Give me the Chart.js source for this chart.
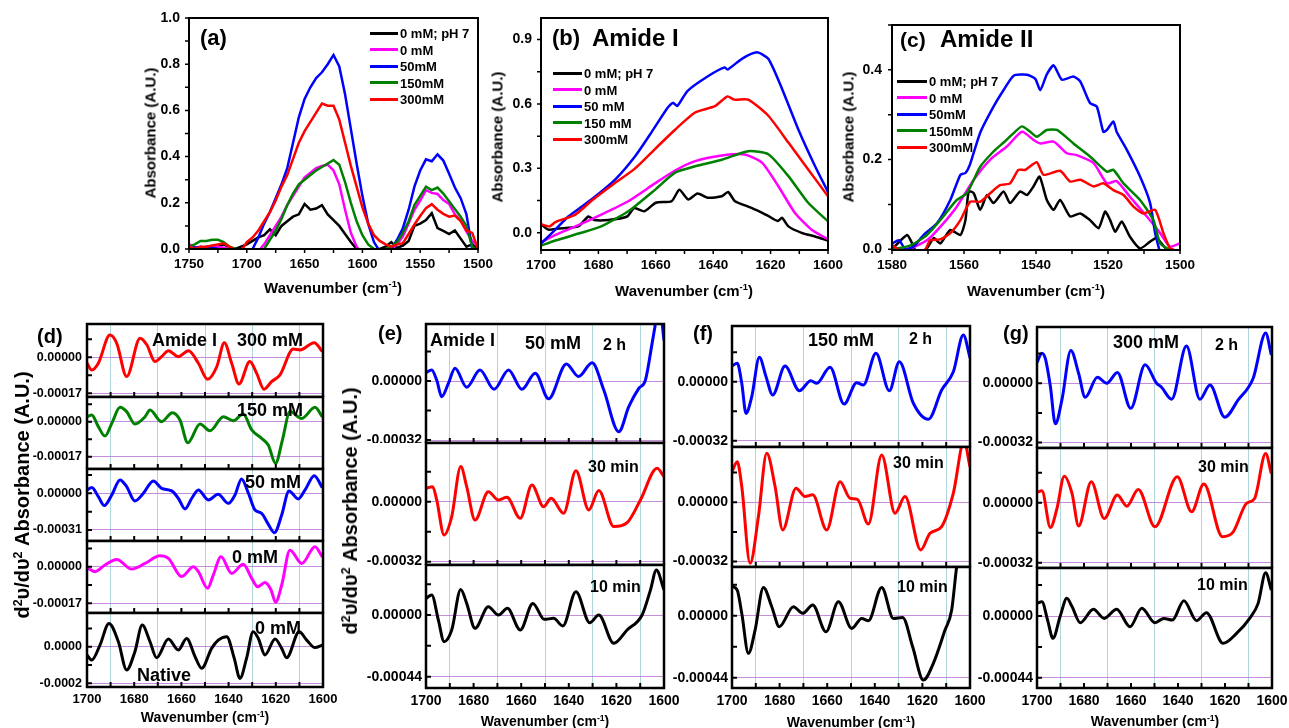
<!DOCTYPE html>
<html>
<head>
<meta charset="utf-8">
<script src="https://cdn.jsdelivr.net/npm/chart.js@4.4.1/dist/chart.umd.min.js"></script>
<style>
  body { margin: 0; background: #fff; }
  #fig { position: relative; width: 1289px; height: 728px; overflow: hidden;
         font-family: "Liberation Sans", Arial, sans-serif; font-weight: bold; color: #000; }
  #fig canvas { position: absolute; }
  .t { position: absolute; white-space: nowrap; line-height: 1; }
  .key { position: absolute; height: 3px; }
  sup { font-size: 0.62em; vertical-align: 0.55em; line-height: 0; }
</style>
</head>
<body>
<div id="fig"></div>
<script>
/**
 * FTIR spectra (a–c) and second-derivative Amide I spectra (d–g)
 */

// ---- (a) 1750–1500 cm-1 ----
const aWn = [1750,1745,1740,1735,1730,1725,1720,1715,1710,1705,1700,1695,1690,1685,1680,1675,1670,1665,1660,1655,1650,1645,1640,1635,1630,1625,1620,1615,1610,1605,1600,1595,1590,1585,1580,1575,1570,1565,1560,1555,1550,1545,1540,1535,1530,1525,1520,1515,1510,1505,1500];
const aPH7   = [0.02,0.005,0.0,0.01,0.005,0.01,0.02,0.008,0.0,0.01,0.02, 0.035,0.05,0.06,0.085,0.06,0.10,0.12,0.14,0.15,0.195,0.17,0.175,0.19,0.15,0.125,0.10,0.065,0.03,0.0,-0.01, -0.02,-0.01,0.0,0.01,0.03,0.005,0.015,0.035,0.10,0.11,0.125,0.155,0.09,0.078,0.065,0.08,0.045,0.01,0.02,0.0];
const a0mM   = [0.02,0.005,0.0,0.005,0.01,0.01,0.005,0.0,-0.01,-0.02,-0.03, -0.02,-0.01,0.02,0.06,0.10,0.14,0.19,0.23,0.27,0.31,0.33,0.35,0.36,0.365,0.34,0.28,0.17,0.07,0.01,-0.02, -0.03,-0.02,-0.01,0.0,0.0,0.02,0.055,0.11,0.17,0.21,0.255,0.243,0.238,0.212,0.195,0.15,0.125,0.075,0.035,0.01];
const a50mM  = [0.01,0.005,0.01,0.0,0.005,0.0,-0.005,-0.01,-0.015,-0.02,-0.02, 0.0,0.05,0.11,0.16,0.22,0.28,0.35,0.46,0.57,0.65,0.70,0.74,0.765,0.80,0.84,0.79,0.67,0.52,0.37,0.23, 0.11,0.03,-0.01,-0.01,0.0,0.04,0.09,0.17,0.27,0.34,0.388,0.38,0.41,0.383,0.326,0.266,0.22,0.15,0.0,-0.01];
const a150mM = [0.01,0.02,0.035,0.035,0.04,0.04,0.03,0.01,0.0,-0.01,-0.02, -0.02,-0.01,0.0,0.04,0.08,0.13,0.19,0.24,0.28,0.30,0.32,0.34,0.355,0.37,0.385,0.365,0.29,0.20,0.12,0.06, 0.02,0.0,-0.01,0.0,0.01,0.03,0.07,0.12,0.19,0.23,0.27,0.255,0.266,0.24,0.207,0.173,0.14,0.1,0.01,-0.01];
const a300mM = [0.01,0.0,0.01,0.01,0.015,0.02,0.025,0.01,-0.005,-0.01,0.03, 0.05,0.08,0.12,0.16,0.21,0.27,0.32,0.39,0.46,0.51,0.55,0.59,0.63,0.62,0.62,0.56,0.46,0.36,0.27,0.18, 0.11,0.06,0.035,0.02,0.01,0.02,0.025,0.065,0.106,0.143,0.177,0.194,0.17,0.152,0.14,0.145,0.121,0.08,0.07,0.0];

// ---- (b) Amide I ----
const bPH7X = [1700,1697.5,1694,1687,1683.5,1681.5,1676.5,1670,1667.5,1664,1660,1654.5,1651.8,1648.7,1645.5,1641.7,1637,1634.8,1632.4,1628,1624,1621,1617.5,1616,1613.8,1609.2,1604.5,1600];
const bPH7Y = [0.04,0.015,0.02,0.03,0.076,0.06,0.06,0.076,0.115,0.10,0.14,0.147,0.20,0.155,0.183,0.163,0.17,0.19,0.147,0.123,0.10,0.08,0.055,0.07,0.03,0.0,-0.017,-0.036];
const b0X   = [1700,1695,1688,1679,1669.6,1660.3,1653.3,1646.3,1637,1629,1623,1617.3,1611.5,1605.7,1600];
const b0Y   = [-0.045,-0.01,0.03,0.085,0.147,0.23,0.29,0.334,0.36,0.365,0.327,0.217,0.092,0.014,-0.03];
const b50X  = [1700,1695,1690.5,1686,1681,1674,1667,1661.4,1656,1654,1652.5,1649,1641.7,1636,1635,1630,1624.8,1620.8,1616,1610.3,1604.5,1600];
const b50Y  = [-0.05,0.015,0.076,0.12,0.17,0.25,0.36,0.47,0.58,0.605,0.59,0.66,0.73,0.77,0.76,0.81,0.84,0.81,0.67,0.48,0.31,0.19];
const b150X = [1700,1695,1686,1679,1669.6,1660.3,1653.3,1646.3,1637,1627.8,1620.8,1613.8,1606.9,1600];
const b150Y = [-0.06,-0.036,0.0,0.03,0.10,0.20,0.28,0.31,0.34,0.38,0.366,0.264,0.14,0.053];
const b300X = [1700,1697,1695,1688,1682.3,1675.4,1667.2,1660.3,1653.3,1646.3,1639.4,1635,1632.7,1627.8,1620.8,1613.8,1606.9,1600];
const b300Y = [0.04,0.03,0.05,0.085,0.15,0.22,0.30,0.39,0.48,0.56,0.59,0.635,0.62,0.62,0.545,0.42,0.295,0.17];

// ---- (c) Amide II ----
const cPH7X = [1580,1575.8,1574.4,1573,1570.3,1568.4,1566.6,1563.8,1561,1559.6,1558.7,1557.3,1555.5,1553.6,1551.8,1549,1547.2,1544.4,1542.5,1540.7,1539,1537,1535.1,1533.3,1530.5,1527.7,1525,1522.6,1520.8,1519.4,1518,1516.2,1513.9,1511.1,1508.3,1506.5,1503.7,1500];
const cPH7Y = [0.0,0.032,0.013,-0.009,0.002,0.025,0.013,0.043,0.032,0.065,0.129,0.125,0.088,0.121,0.103,0.129,0.103,0.129,0.121,0.14,0.162,0.11,0.088,0.11,0.073,0.08,0.065,0.047,0.084,0.065,0.039,0.062,0.028,0.002,0.017,0.025,0.0,-0.005];
const c0X   = [1580,1575,1570.3,1566.6,1562,1557.3,1552.7,1548.1,1543.9,1540.7,1538.8,1535.1,1531.4,1528.7,1524,1520.3,1517.6,1513.9,1509.2,1505.5,1502.8,1500];
const c0Y   = [0.0,0.002,0.02,0.05,0.095,0.155,0.2,0.229,0.262,0.244,0.236,0.24,0.214,0.21,0.192,0.147,0.152,0.117,0.073,0.036,0.006,0.013];
const c50X  = [1580,1578,1576.3,1574,1571.2,1567.5,1563.8,1561,1559.6,1558.3,1555.5,1551.8,1549,1546.2,1542.5,1540.2,1538.8,1537,1535.1,1532.8,1529.6,1527.7,1525,1523.1,1521.3,1520.3,1518.5,1517.6,1514.8,1511.1,1508.3,1506.9,1505.5];
const c50Y  = [0.013,0.02,0.0,0.006,0.032,0.058,0.11,0.166,0.17,0.19,0.26,0.318,0.355,0.387,0.389,0.38,0.355,0.39,0.41,0.378,0.385,0.374,0.326,0.318,0.262,0.266,0.285,0.262,0.222,0.162,0.103,0.036,-0.009];
const c150X = [1580,1575,1570.3,1566.6,1562,1559.2,1555.5,1551.8,1549,1546.2,1543.9,1541.6,1539.8,1537,1534.2,1529.6,1525,1520.3,1518.5,1515.7,1511.1,1507.4,1505.5,1502.8];
const c150Y = [0.0,0.008,0.032,0.065,0.11,0.125,0.184,0.218,0.238,0.259,0.274,0.262,0.251,0.266,0.266,0.236,0.207,0.173,0.177,0.147,0.11,0.065,0.013,-0.002];
const c300X = [1580,1576.8,1573,1570.7,1569.4,1566.6,1563.8,1561,1558.3,1555.5,1552.7,1550,1547.2,1544.9,1543,1539.8,1537.9,1533.3,1530.5,1527.7,1524,1521.3,1518.5,1515.7,1512.9,1510.2,1506.9,1504.6,1502.8,1501.8];
const c300Y = [0.01,-0.009,-0.009,0.0,0.02,0.022,0.036,0.065,0.106,0.106,0.125,0.143,0.147,0.177,0.177,0.194,0.166,0.175,0.151,0.155,0.14,0.147,0.132,0.121,0.095,0.08,0.088,0.036,0.002,0.0];

// ---- (d) second derivative, stacked by NaCl concentration ----
const d300X = [1700,1698,1695.2,1690.3,1687.4,1683.2,1677.5,1674.6,1671.2,1668.4,1665.5,1661.3,1657,1652.8,1648.9,1645,1641.8,1638.7,1635.6,1631,1628.1,1625,1621.8,1618.2,1612.6,1609.7,1603.7,1600.3];
const d300Y = [-0.28e-4,-0.6e-4,-0.28e-4,1.05e-4,0.66e-4,-0.91e-4,0.9e-4,0.58e-4,-0.2e-4,0.03e-4,0.31e-4,0.03e-4,0.31e-4,-0.28e-4,-1.04e-4,-0.44e-4,0.69e-4,-0.28e-4,-1.26e-4,-0.2e-4,-0.76e-4,-1.51e-4,-1.15e-4,-0.83e-4,0.39e-4,0.35e-4,0.69e-4,0.27e-4];
const d150X = [1700,1698,1695.2,1692.4,1689.5,1686,1683.2,1679.7,1675.4,1673.3,1668.4,1663.8,1660.6,1657.3,1652.1,1647.9,1642.2,1638,1633.8,1630.2,1626,1623.2,1620.1,1617.2,1614,1609,1603.4,1600.3];
const d150Y = [0.24e-4,0.32e-4,-0.24e-4,-0.7e-4,-0.08e-4,0.7e-4,0.49e-4,-0.11e-4,0.24e-4,0.57e-4,0.0,0.44e-4,0.08e-4,-1.02e-4,-0.11e-4,-0.44e-4,0.24e-4,0.05e-4,0.37e-4,-0.4e-4,-0.81e-4,-1.13e-4,-2.02e-4,-0.89e-4,0.49e-4,0.16e-4,0.7e-4,0.24e-4];
const d50X  = [1700,1698,1695.2,1692.7,1689.5,1686,1683.2,1679.7,1676.1,1671.9,1668.4,1664.1,1661.3,1658.5,1655.6,1652.8,1648.6,1644.4,1640.1,1637.3,1634.5,1631.6,1628.8,1626,1623.4,1620.6,1617.5,1614.4,1610.5,1607.6,1603.7,1600.3];
const d50Y  = [0.28e-4,0.48e-4,-0.28e-4,-1.04e-4,-0.14e-4,1.13e-4,0.56e-4,-0.65e-4,0.0,1.04e-4,0.42e-4,0.2e-4,-0.42e-4,-1.32e-4,-0.42e-4,0.28e-4,-0.56e-4,-0.08e-4,-0.85e-4,-0.14e-4,1.21e-4,0.0,-1.41e-4,-1.69e-4,-2.54e-4,-3.33e-4,-1.83e-4,0.2e-4,-0.48e-4,0.28e-4,1.49e-4,0.48e-4];
const d0X   = [1700,1696.6,1692.4,1687.4,1681.1,1675.4,1669.1,1665.5,1659.9,1654.9,1652.8,1648.9,1646.5,1643.2,1638.7,1633.8,1630.2,1627.7,1624.6,1622,1620.1,1617.5,1614,1609,1603.4,1600.3];
const d0Y   = [-0.05e-4,-0.23e-4,0.08e-4,0.34e-4,-0.11e-4,0.15e-4,0.51e-4,0.39e-4,-0.46e-4,0.0,-0.23e-4,-1.0e-4,-0.39e-4,0.46e-4,-0.31e-4,0.11e-4,-0.54e-4,-0.93e-4,-0.73e-4,-1.08e-4,-1.65e-4,-0.85e-4,0.77e-4,0.15e-4,0.93e-4,0.46e-4];
const dNatX = [1700,1698,1694.5,1690.7,1686.7,1683.2,1679.7,1676.6,1673.3,1670.5,1665.5,1661.3,1657.8,1654.2,1651.4,1647.2,1644.4,1640.8,1637.6,1635.2,1632.4,1629.6,1627.4,1624.6,1620.3,1617.5,1615.4,1610.1,1606.9,1603.4,1600.3];
const dNatY = [-0.45e-4,-0.73e-4,0.09e-4,1.27e-4,0.27e-4,-1.27e-4,-0.27e-4,1.18e-4,0.27e-4,-0.6e-4,0.42e-4,-0.18e-4,0.45e-4,-0.55e-4,-1.18e-4,-0.09e-4,0.36e-4,0.55e-4,-0.64e-4,-1.73e-4,-0.64e-4,0.82e-4,0.45e-4,-0.45e-4,0.42e-4,-0.09e-4,-0.6e-4,0.82e-4,0.36e-4,-0.05e-4,0.09e-4];

// ---- (e) 50 mM over time ----
const e2hX  = [1700,1697.6,1695.5,1693.4,1690.6,1687.8,1682.9,1677.3,1671.4,1665.3,1659.7,1654.1,1648.5,1641,1635.9,1630.2,1625.3,1619,1614.8,1610.6,1607.8,1605,1603.6,1602,1600];
const e2hY  = [0.45e-4,0.6e-4,0.05e-4,-0.85e-4,-0.13e-4,0.69e-4,-0.34e-4,0.6e-4,-0.45e-4,0.6e-4,-0.45e-4,0.42e-4,-0.96e-4,0.92e-4,0.24e-4,0.99e-4,-0.49e-4,-2.75e-4,-1.39e-4,-0.4e-4,0.05e-4,2.04e-4,3.1e-4,4.2e-4,2.2e-4];
const e30X  = [1700,1697.2,1695.5,1692.4,1689.2,1685.4,1682.9,1679.4,1673.8,1669.6,1666,1660.4,1655.5,1650.6,1647.4,1642.2,1637,1631.6,1627.4,1621.1,1615.5,1609.9,1602.9,1600];
const e30Y  = [0.71e-4,0.8e-4,0.09e-4,-1.78e-4,-0.8e-4,1.87e-4,0.8e-4,-0.98e-4,0.53e-4,0.09e-4,0.23e-4,-0.89e-4,0.89e-4,-0.27e-4,0.18e-4,-0.62e-4,1.65e-4,-0.44e-4,0.59e-4,-1.33e-4,-1.12e-4,0.09e-4,1.78e-4,1.33e-4];
const e10X  = [1700,1697.6,1694.8,1692.4,1689.2,1685.4,1682.9,1679.4,1673.8,1669.6,1665.8,1660.4,1655.1,1650.3,1646.4,1642.5,1637,1631.2,1627.4,1621.1,1615.5,1609.2,1605.7,1603.2,1600];
const e10Y  = [1.19e-4,1.43e-4,-0.36e-4,-1.9e-4,-1.07e-4,1.83e-4,0.83e-4,-0.95e-4,0.59e-4,0.0,0.48e-4,-1.07e-4,0.83e-4,-0.31e-4,-0.24e-4,-0.78e-4,1.66e-4,-0.55e-4,0.0,-2.02e-4,-1.07e-4,0.0,1.78e-4,3.21e-4,1.8e-4];

// ---- (f) 150 mM over time ----
const f2hX  = [1700,1697.8,1695.9,1694.1,1691.7,1688.5,1685.7,1682.9,1677.7,1671.7,1666.9,1664.4,1658.8,1652.9,1647.6,1644.8,1639.5,1633.9,1629.7,1623.8,1617.5,1611.9,1607,1602.8,1600];
const f2hY  = [0.85e-4,1.0e-4,-0.09e-4,-1.72e-4,-0.81e-4,1.32e-4,0.27e-4,-0.72e-4,0.85e-4,-0.49e-4,0.05e-4,-0.09e-4,0.78e-4,-1.21e-4,-0.05e-4,-0.18e-4,1.54e-4,-0.49e-4,1.08e-4,-1.17e-4,-2.04e-4,-0.45e-4,0.54e-4,2.53e-4,1.3e-4];
const f30X  = [1700,1697.8,1695.9,1692.4,1688.9,1685.4,1681.9,1678.7,1673.1,1669.3,1666.1,1660.2,1654.6,1650.4,1647.3,1642.7,1637.1,1631.5,1627.3,1620.7,1616.8,1611.9,1607,1602.5,1600];
const f30Y  = [1.65e-4,2.19e-4,0.85e-4,-3.29e-4,-0.77e-4,2.64e-4,0.85e-4,-1.49e-4,0.76e-4,0.31e-4,0.4e-4,-1.49e-4,1.11e-4,0.22e-4,0.16e-4,-1.17e-4,2.55e-4,-0.59e-4,0.31e-4,-2.57e-4,-1.67e-4,-1.31e-4,0.49e-4,3.3e-4,1.9e-4];
const f10X  = [1700,1697.8,1695.9,1693.1,1690.3,1686.8,1683.3,1680.1,1674.2,1670.3,1666.1,1660.5,1655.3,1649.7,1645.5,1642.7,1637.1,1632.2,1628.3,1624.1,1619.6,1615.4,1610.5,1607.7,1605.6,1603,1600];
const f10Y  = [2.1e-4,1.82e-4,0.17e-4,-2.67e-4,-1.02e-4,2.01e-4,0.64e-4,-0.78e-4,0.64e-4,0.17e-4,0.76e-4,-1.14e-4,0.99e-4,-0.9e-4,-0.19e-4,-0.35e-4,2.01e-4,-0.19e-4,-0.12e-4,-2.2e-4,-4.57e-4,-3.38e-4,-1.02e-4,0.4e-4,3.48e-4,6.0e-4,8.0e-4];

// ---- (g) 300 mM over time ----
const g2hX  = [1700,1697.9,1696.5,1694.3,1692.2,1689.4,1685.6,1682.3,1679.5,1674.3,1670.3,1665.8,1660.1,1654,1649.1,1647,1642.7,1636.4,1630.7,1626.4,1620.1,1614.4,1608,1602.7,1600.3];
const g2hY  = [1.12e-4,1.62e-4,1.35e-4,-0.18e-4,-2.19e-4,-0.9e-4,1.76e-4,0.54e-4,-0.76e-4,0.32e-4,0.0,0.58e-4,-1.35e-4,0.99e-4,0.0,-0.22e-4,-0.86e-4,2.01e-4,-0.86e-4,-0.09e-4,-1.83e-4,-0.9e-4,0.27e-4,2.7e-4,1.53e-4];
const g30X  = [1700,1697.9,1694.3,1691.5,1688.4,1685.1,1682.3,1676.9,1671.4,1665.8,1661.8,1656.9,1649.8,1640.3,1634.2,1629,1621.1,1616.5,1610.9,1607.4,1602.7,1600.3];
const g30Y  = [0.55e-4,0.64e-4,-1.32e-4,-0.3e-4,1.42e-4,0.5e-4,-1.24e-4,1.12e-4,-0.84e-4,0.41e-4,-0.18e-4,0.71e-4,-1.28e-4,1.39e-4,-0.48e-4,1.0e-4,-1.81e-4,-1.55e-4,-0.04e-4,0.23e-4,2.63e-4,1.56e-4];
const g10X  = [1700,1697.9,1695.5,1693.2,1690.1,1687.3,1685.1,1681.6,1676,1671.4,1666.1,1660.4,1655.4,1649.8,1646,1642.4,1637.5,1632.1,1627.9,1620.8,1615.1,1609.5,1605.9,1602.7,1600.3];
const g10Y  = [0.9e-4,1.02e-4,-0.29e-4,-1.59e-4,0.0,1.26e-4,0.67e-4,-0.48e-4,0.48e-4,-0.17e-4,0.48e-4,-0.76e-4,0.55e-4,-0.48e-4,-0.17e-4,-0.29e-4,1.09e-4,-0.33e-4,0.24e-4,-1.95e-4,-1.24e-4,-0.17e-4,0.9e-4,3.09e-4,1.85e-4];

// ---- tick values and labels ----
const aXTicks = [1500,1525,1550,1575,1600,1625,1650,1675,1700,1725,1750];
const aXLabels = ['1500','','1550','','1600','','1650','','1700','','1750'];
const aYTicks = [0,0.1,0.2,0.3,0.4,0.5,0.6,0.7,0.8,0.9,1.0];
const aYLabels = ['0.0','','0.2','','0.4','','0.6','','0.8','','1.0'];
const bYTicks = [0,0.15,0.3,0.45,0.6,0.75,0.9];
const bYLabels = ['0.0','','0.3','','0.6','','0.9'];
const cXTicks = [1500,1510,1520,1530,1540,1550,1560,1570,1580];
const cXLabels = ['1500','','1520','','1540','','1560','','1580'];
const cYTicks = [0,0.1,0.2,0.3,0.4,0.5];
const cYLabels = ['0.0','','0.2','','0.4',''];
const amideXTicks = [1600,1610,1620,1630,1640,1650,1660,1670,1680,1690,1700];
const amideXLabels = ['1600','','1620','','1640','','1660','','1680','','1700'];

const BLACK = '#000000', MAGENTA = '#ff00ff', BLUE = '#0000ff', GREEN = '#008000', RED = '#ff0000';
const GRID_X = 'rgba(110,180,190,0.55)';
const GRID_Y = 'rgba(190,120,215,0.85)';

Chart.defaults.font.family = '"Liberation Sans", Arial, sans-serif';
Chart.defaults.font.weight = 'bold';
Chart.defaults.color = '#000';

const fig = document.getElementById('fig');

// box frame plus tick marks, taken from each chart's own scales
const framePlugin = {
    id: 'frame',
    afterDatasetsDraw(chart, args, o) {
        const { ctx, chartArea: a, scales } = chart;
        const dir = o.inward ? 1 : -1;
        ctx.save();
        ctx.strokeStyle = '#000';
        ctx.lineWidth = o.tickWidth;
        ctx.beginPath();
        scales.x.ticks.forEach(t => {
            const px = scales.x.getPixelForValue(t.value);
            const len = t.label ? o.major : o.minor;
            ctx.moveTo(px, a.bottom);
            ctx.lineTo(px, a.bottom - dir * len);
        });
        scales.y.ticks.forEach(t => {
            const py = scales.y.getPixelForValue(t.value);
            const len = t.label ? o.major : o.minor;
            ctx.moveTo(a.left, py);
            ctx.lineTo(a.left + dir * len, py);
        });
        ctx.stroke();
        ctx.lineWidth = o.frameWidth;
        ctx.strokeRect(a.left, a.top, a.right - a.left, a.bottom - a.top);
        ctx.restore();
    }
};

/**
 * One plot box placed at page coordinates (left/top/right/bottom of the plot area)
 */
function panel(p) {
    const padT = p.padT ?? 6, padR = p.padR ?? 24;
    const W = p.right - p.left + p.padL + padR;
    const H = p.bottom - p.top + padT + p.padB;
    const cv = document.createElement('canvas');
    cv.width = W; cv.height = H;
    Object.assign(cv.style, {
        left: (p.left - p.padL) + 'px', top: (p.top - padT) + 'px',
        width: W + 'px', height: H + 'px'
    });
    fig.appendChild(cv);

    const setTicks = vals => scale => { scale.ticks = vals.map(v => ({ value: v })); };

    return new Chart(cv, {
        type: 'scatter',
        data: {
            datasets: p.series.map(s => ({
                data: s.x.map((x, i) => ({ x, y: s.y[i] })),
                showLine: true,
                borderColor: s.color,
                backgroundColor: s.color,
                borderWidth: p.lineWidth,
                pointRadius: 0,
                pointHoverRadius: 0,
                tension: p.tension || 0,
                cubicInterpolationMode: p.smooth ? 'monotone' : 'default'
            }))
        },
        options: {
            responsive: false,
            animation: false,
            events: [],
            layout: { padding: { top: padT, right: padR, left: 0, bottom: 0 }, autoPadding: false },
            plugins: {
                legend: { display: false },
                tooltip: { enabled: false },
                frame: p.frame
            },
            scales: {
                x: {
                    type: 'linear', reverse: true, min: p.xMin, max: p.xMax,
                    afterBuildTicks: setTicks(p.xTicks),
                    afterFit: s => { s.height = p.padB; s.paddingLeft = 0; s.paddingRight = 0; },
                    border: { display: false },
                    grid: {
                        display: !!p.grid, drawTicks: false, lineWidth: 1,
                        color: c => (p.xLabels[c.index] === '' ? GRID_X : 'rgba(0,0,0,0)')
                    },
                    ticks: {
                        display: p.xShow, autoSkip: false, maxRotation: 0, padding: p.xPad,
                        font: { size: p.xFont, weight: 'bold' }, color: '#000',
                        callback: (v, i) => p.xLabels[i]
                    }
                },
                y: {
                    type: 'linear', min: p.yMin, max: p.yMax,
                    afterBuildTicks: setTicks(p.yTicks),
                    afterFit: s => { s.width = p.padL; s.paddingTop = 0; s.paddingBottom = 0; },
                    border: { display: false },
                    grid: {
                        display: !!p.grid, drawTicks: false, lineWidth: 1,
                        color: c => (p.yLabels[c.index] !== '' ? GRID_Y : 'rgba(0,0,0,0)')
                    },
                    ticks: {
                        autoSkip: false, padding: p.yPad,
                        font: { size: p.yFont, weight: 'bold' }, color: '#000',
                        callback: (v, i) => p.yLabels[i]
                    }
                }
            }
        },
        plugins: [framePlugin]
    });
}

function txt(html, x, y, size, center) {
    const d = document.createElement('div');
    d.className = 't';
    d.innerHTML = html;
    d.style.fontSize = size + 'px';
    d.style.left = x + 'px';
    d.style.top = y + 'px';
    d.style.transform = center ? 'translate(-50%,-50%)' : 'translate(0,-50%)';
    fig.appendChild(d);
}

function vtxt(html, x, y, size) {
    const d = document.createElement('div');
    d.className = 't';
    d.innerHTML = html;
    d.style.fontSize = size + 'px';
    d.style.left = x + 'px';
    d.style.top = y + 'px';
    d.style.transform = 'translate(-50%,-50%) rotate(-90deg)';
    fig.appendChild(d);
}

function legendRows(x1, x2, y0, step, rows) {
    rows.forEach((r, i) => {
        const y = y0 + i * step;
        const k = document.createElement('div');
        k.className = 'key';
        Object.assign(k.style, { left: x1 + 'px', top: (y - 1.5) + 'px', width: (x2 - x1) + 'px', background: r[0] });
        fig.appendChild(k);
        txt(r[1], x2 + 2, y, 13);
    });
}

// ---------- top row ----------
const topFrame = { inward: false, major: 4, minor: 4, tickWidth: 1.5, frameWidth: 2 };
const topCommon = { padL: 60, padB: 32, padT: 8, padR: 26, lineWidth: 2.5, frame: topFrame,
                    xShow: true, xPad: 7, xFont: 13.5, yPad: 9, yFont: 14 };

panel({ ...topCommon, left: 189, right: 478, top: 18, bottom: 249,
    xMin: 1500, xMax: 1750, xTicks: aXTicks, xLabels: aXLabels,
    yMin: 0, yMax: 1.0, yTicks: aYTicks, yLabels: aYLabels,
    series: [
        { x: aWn, y: a300mM, color: RED },
        { x: aWn, y: a150mM, color: GREEN },
        { x: aWn, y: a50mM, color: BLUE },
        { x: aWn, y: a0mM, color: MAGENTA },
        { x: aWn, y: aPH7, color: BLACK }
    ] });

panel({ ...topCommon, left: 541, right: 828, top: 18, bottom: 250, tension: 0.2,
    xMin: 1600, xMax: 1700, xTicks: amideXTicks, xLabels: amideXLabels,
    yMin: -0.08, yMax: 1.0, yTicks: bYTicks, yLabels: bYLabels,
    series: [
        { x: b300X, y: b300Y, color: RED },
        { x: b150X, y: b150Y, color: GREEN },
        { x: b50X, y: b50Y, color: BLUE },
        { x: b0X, y: b0Y, color: MAGENTA },
        { x: bPH7X, y: bPH7Y, color: BLACK }
    ] });

panel({ ...topCommon, left: 892, right: 1180, top: 25, bottom: 250, yPad: 10, tension: 0.2,
    xMin: 1500, xMax: 1580, xTicks: cXTicks, xLabels: cXLabels,
    yMin: -0.0016, yMax: 0.5, yTicks: cYTicks, yLabels: cYLabels,
    series: [
        { x: c300X, y: c300Y, color: RED },
        { x: c150X, y: c150Y, color: GREEN },
        { x: c50X, y: c50Y, color: BLUE },
        { x: c0X, y: c0Y, color: MAGENTA },
        { x: cPH7X, y: cPH7Y, color: BLACK }
    ] });

// ---------- bottom row: stacked second-derivative boxes ----------
const derivFrame = { inward: true, major: 5, minor: 5, tickWidth: 2, frameWidth: 2.5 };

function derivBox(cfg) {
    const L = cfg.L;
    panel({
        left: cfg.left, right: cfg.right, top: cfg.top, bottom: cfg.bottom,
        padL: 72, padR: 22, padT: 4, padB: cfg.last ? 26 : 0,
        lineWidth: 3, smooth: true, grid: true, frame: derivFrame,
        xMin: 1600, xMax: 1700, xTicks: amideXTicks, xLabels: amideXLabels,
        xShow: !!cfg.last, xPad: 5, xFont: cfg.xFont,
        yMin: cfg.yMin, yMax: cfg.yMax,
        yTicks: [-L, -L / 2, 0, L / 2], yLabels: [cfg.low, '', cfg.zero, ''],
        yPad: cfg.yPad, yFont: cfg.yFont,
        series: [{ x: cfg.x, y: cfg.y, color: cfg.color }]
    });
}

// (d)
const dBox = { left: 87, right: 323, xFont: 13, yFont: 12.5, yPad: 5, zero: '0.00000' };
derivBox({ ...dBox, top: 324, bottom: 397, L: 0.00017, low: '-0.00017', yMin: -1.875e-4, yMax: 1.572e-4, x: d300X, y: d300Y, color: RED });
derivBox({ ...dBox, top: 397, bottom: 469, L: 0.00017, low: '-0.00017', yMin: -2.297e-4, yMax: 1.2e-4, x: d150X, y: d150Y, color: GREEN });
derivBox({ ...dBox, top: 469, bottom: 541, L: 0.00031, low: '-0.00031', yMin: -4.03e-4, yMax: 2.05e-4, x: d50X, y: d50Y, color: BLUE });
derivBox({ ...dBox, top: 541, bottom: 613, L: 0.00017, low: '-0.00017', yMin: -2.15e-4, yMax: 1.194e-4, x: d0X, y: d0Y, color: MAGENTA });
derivBox({ ...dBox, top: 613, bottom: 687, L: 0.0002, low: '-0.0002', zero: '0.0000', yMin: -2.2e-4, yMax: 1.84e-4, x: dNatX, y: dNatY, color: BLACK, last: true });

// (e)
const eBox = { left: 426, right: 664, xFont: 14, yFont: 14, yPad: 4, zero: '0.00000' };
derivBox({ ...eBox, top: 324, bottom: 443, L: 0.00032, low: '-0.00032', yMin: -3.36e-4, yMax: 3.09e-4, x: e2hX, y: e2hY, color: BLUE });
derivBox({ ...eBox, top: 443, bottom: 565, L: 0.00032, low: '-0.00032', yMin: -3.38e-4, yMax: 3.13e-4, x: e30X, y: e30Y, color: RED });
derivBox({ ...eBox, top: 565, bottom: 688, L: 0.00044, low: '-0.00044', yMin: -5.21e-4, yMax: 3.57e-4, x: e10X, y: e10Y, color: BLACK, last: true });

// (f)
const fBox = { left: 732, right: 970, xFont: 14, yFont: 14, yPad: 4, zero: '0.00000' };
derivBox({ ...fBox, top: 326, bottom: 447, L: 0.00032, low: '-0.00032', yMin: -3.54e-4, yMax: 3.02e-4, x: f2hX, y: f2hY, color: BLUE });
derivBox({ ...fBox, top: 447, bottom: 567, L: 0.00032, low: '-0.00032', yMin: -3.49e-4, yMax: 2.98e-4, x: f30X, y: f30Y, color: RED });
derivBox({ ...fBox, top: 567, bottom: 688, L: 0.00044, low: '-0.00044', yMin: -5.13e-4, yMax: 3.46e-4, x: f10X, y: f10Y, color: BLACK, last: true });

// (g)
const gBox = { left: 1037, right: 1272, xFont: 14, yFont: 14, yPad: 4, zero: '0.00000' };
derivBox({ ...gBox, top: 327, bottom: 448, L: 0.00032, low: '-0.00032', yMin: -3.49e-4, yMax: 3.03e-4, x: g2hX, y: g2hY, color: BLUE });
derivBox({ ...gBox, top: 448, bottom: 568, L: 0.00032, low: '-0.00032', yMin: -3.48e-4, yMax: 2.92e-4, x: g30X, y: g30Y, color: RED });
derivBox({ ...gBox, top: 568, bottom: 688, L: 0.00044, low: '-0.00044', yMin: -5.13e-4, yMax: 3.42e-4, x: g10X, y: g10Y, color: BLACK, last: true });

// ---------- text ----------
const wave = 'Wavenumber (cm<sup>-1</sup>)';
const absAU = 'Absorbance (A.U.)';
const d2 = 'd<sup>2</sup>&upsilon;/d&upsilon;<sup>2</sup> Absorbance (A.U.)';

// axis titles
txt(wave, 333, 287, 15, true);
txt(wave, 684, 290, 15, true);
txt(wave, 1036, 290, 15, true);
vtxt(absAU, 150, 133, 15);
vtxt(absAU, 497, 137, 15);
vtxt(absAU, 848, 137, 15);
txt(wave, 205, 717, 14, true);
txt(wave, 545, 721, 14, true);
txt(wave, 851, 722, 14, true);
txt(wave, 1155, 721, 14, true);
vtxt(d2, 22, 495, 20);
vtxt(d2, 350, 511, 20);

// panel letters and headings
txt('(a)', 200, 38, 22);
txt('(b)', 552, 38, 22);
txt('Amide I', 592, 38, 24);
txt('(c)', 900, 39, 21);
txt('Amide II', 940, 39, 24);
txt('(d)', 37, 336, 20);
txt('(e)', 378, 333, 20);
txt('(f)', 693, 333, 20);
txt('(g)', 1003, 333, 20);

// legends
legendRows(370, 398, 33, 16.5, [[BLACK, '0 mM; pH 7'], [MAGENTA, '0 mM'], [BLUE, '50mM'], [GREEN, '150mM'], [RED, '300mM']]);
legendRows(553, 582, 73, 16.6, [[BLACK, '0 mM; pH 7'], [MAGENTA, '0 mM'], [BLUE, '50 mM'], [GREEN, '150 mM'], [RED, '300mM']]);
legendRows(897, 927, 81, 16.5, [[BLACK, '0 mM; pH 7'], [MAGENTA, '0 mM'], [BLUE, '50mM'], [GREEN, '150mM'], [RED, '300mM']]);

// in-box labels
txt('Amide I', 152, 340, 18);
txt('300 mM', 237, 340, 18);
txt('150 mM', 237, 410, 18);
txt('50 mM', 245, 482, 18);
txt('0 mM', 232, 557, 18);
txt('0 mM', 255, 628, 18);
txt('Native', 137, 675, 18);

txt('Amide I', 430, 340, 18);
txt('50 mM', 525, 343, 18);
txt('2 h', 603, 345, 16);
txt('30 min', 588, 467, 16);
txt('10 min', 590, 587, 16);

txt('150 mM', 808, 340, 18);
txt('2 h', 909, 339, 16);
txt('30 min', 893, 463, 16);
txt('10 min', 897, 587, 16);

txt('300 mM', 1113, 342, 18);
txt('2 h', 1215, 345, 16);
txt('30 min', 1198, 467, 16);
txt('10 min', 1197, 585, 16);
</script>
</body>
</html>
